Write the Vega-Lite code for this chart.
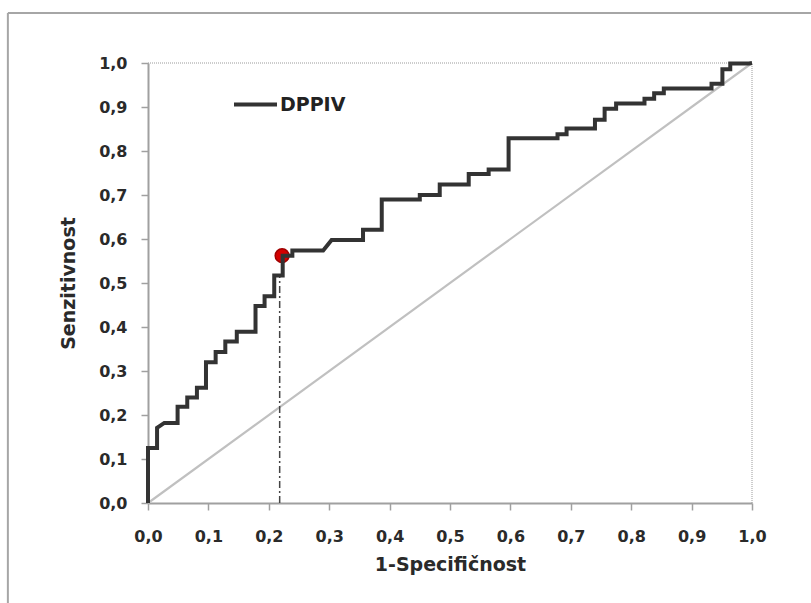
{
  "$schema": "https://vega.github.io/schema/vega-lite/v6.json",
  "width": 604,
  "height": 440,
  "autosize": {"type": "none"},
  "padding": {"left": 148, "top": 63, "right": 59, "bottom": 100},
  "background": "white",
  "config": {"view": {"stroke": null}},
  "datasets": {
    "roc": [
      {"x": 0, "y": 0}, {"x": 0, "y": 0.125}, {"x": 0.015, "y": 0.125}, {"x": 0.015, "y": 0.171},
      {"x": 0.027, "y": 0.182}, {"x": 0.049, "y": 0.182}, {"x": 0.049, "y": 0.219}, {"x": 0.065, "y": 0.219},
      {"x": 0.065, "y": 0.24}, {"x": 0.081, "y": 0.24}, {"x": 0.081, "y": 0.262}, {"x": 0.096, "y": 0.262},
      {"x": 0.096, "y": 0.32}, {"x": 0.112, "y": 0.32}, {"x": 0.112, "y": 0.343}, {"x": 0.128, "y": 0.343},
      {"x": 0.128, "y": 0.367}, {"x": 0.147, "y": 0.367}, {"x": 0.147, "y": 0.389}, {"x": 0.178, "y": 0.389},
      {"x": 0.178, "y": 0.448}, {"x": 0.193, "y": 0.448}, {"x": 0.193, "y": 0.47}, {"x": 0.209, "y": 0.47},
      {"x": 0.209, "y": 0.517}, {"x": 0.223, "y": 0.517}, {"x": 0.223, "y": 0.562}, {"x": 0.239, "y": 0.562},
      {"x": 0.239, "y": 0.574}, {"x": 0.29, "y": 0.574}, {"x": 0.304, "y": 0.598}, {"x": 0.356, "y": 0.598},
      {"x": 0.356, "y": 0.621}, {"x": 0.387, "y": 0.621}, {"x": 0.387, "y": 0.69}, {"x": 0.45, "y": 0.69},
      {"x": 0.45, "y": 0.7}, {"x": 0.483, "y": 0.7}, {"x": 0.483, "y": 0.724}, {"x": 0.531, "y": 0.724},
      {"x": 0.531, "y": 0.748}, {"x": 0.564, "y": 0.748}, {"x": 0.564, "y": 0.758}, {"x": 0.597, "y": 0.758},
      {"x": 0.597, "y": 0.829}, {"x": 0.678, "y": 0.829}, {"x": 0.678, "y": 0.838}, {"x": 0.693, "y": 0.838},
      {"x": 0.693, "y": 0.851}, {"x": 0.74, "y": 0.851}, {"x": 0.74, "y": 0.871}, {"x": 0.756, "y": 0.871},
      {"x": 0.756, "y": 0.896}, {"x": 0.775, "y": 0.896}, {"x": 0.775, "y": 0.908}, {"x": 0.822, "y": 0.908},
      {"x": 0.822, "y": 0.919}, {"x": 0.838, "y": 0.919}, {"x": 0.838, "y": 0.931}, {"x": 0.854, "y": 0.931},
      {"x": 0.854, "y": 0.942}, {"x": 0.933, "y": 0.942}, {"x": 0.933, "y": 0.953}, {"x": 0.951, "y": 0.953},
      {"x": 0.951, "y": 0.986}, {"x": 0.964, "y": 0.986}, {"x": 0.964, "y": 0.999}, {"x": 0.995, "y": 0.999},
      {"x": 1, "y": 1}
    ],
    "diag": [{"x": 0, "y": 0}, {"x": 1, "y": 1}],
    "cut": [{"x": 0.218, "y": 0}, {"x": 0.218, "y": 0.52}],
    "opt": [{"x": 0.222, "y": 0.562}]
  },
  "layer": [
    {
      "data": {"values": [{}]},
      "mark": {"type": "rule", "color": "#a6a6a6", "strokeWidth": 2},
      "encoding": {
        "x": {
          "datum": -0.232, "type": "quantitative", "scale": {"domain": [0, 1]},
          "axis": {
            "title": "1-Specifičnost", "values": [0, 0.1, 0.2, 0.3, 0.4, 0.5, 0.6, 0.7, 0.8, 0.9, 1],
            "labelExpr": "replace(format(datum.value, '.1f'), '.', ',')",
            "grid": false, "domainColor": "#a0a0a0", "domainWidth": 2, "tickColor": "#a0a0a0", "tickWidth": 1.5, "tickSize": 7,
            "labelFont": "DejaVu Sans", "labelFontWeight": "bold", "labelFontSize": 16, "labelColor": "#2a2a2a", "labelPadding": 18,
            "labelFlush": false, "labelOverlap": false,
            "titleFont": "DejaVu Sans", "titleFontWeight": "bold", "titleFontSize": 19, "titleColor": "#2a2a2a", "titlePadding": 11
          }
        },
        "x2": {"datum": 1.2},
        "y": {
          "datum": 1.1136, "type": "quantitative", "scale": {"domain": [0, 1]},
          "axis": {
            "title": "Senzitivnost", "values": [0, 0.1, 0.2, 0.3, 0.4, 0.5, 0.6, 0.7, 0.8, 0.9, 1],
            "labelExpr": "replace(format(datum.value, '.1f'), '.', ',')",
            "grid": false, "domainColor": "#a0a0a0", "domainWidth": 2, "tickColor": "#a0a0a0", "tickWidth": 1.5, "tickSize": 7,
            "labelFont": "DejaVu Sans", "labelFontWeight": "bold", "labelFontSize": 16, "labelColor": "#2a2a2a", "labelPadding": 14,
            "labelFlush": false, "labelOverlap": false,
            "titleFont": "DejaVu Sans", "titleFontWeight": "bold", "titleFontSize": 19, "titleColor": "#2a2a2a", "titlePadding": 20
          }
        }
      }
    },
    {
      "data": {"values": [{}]},
      "mark": {"type": "rule", "color": "#a6a6a6", "strokeWidth": 2},
      "encoding": {
        "x": {"datum": -0.232, "type": "quantitative", "scale": {"domain": [0, 1]}},
        "y": {"datum": 1.1136, "type": "quantitative", "scale": {"domain": [0, 1]}},
        "y2": {"datum": -0.3}
      }
    },
    {
      "data": {"values": [{}]},
      "mark": {"type": "rule", "color": "#9a9a9a", "strokeWidth": 1, "strokeDash": [1, 1]},
      "encoding": {
        "x": {"datum": 0, "type": "quantitative", "scale": {"domain": [0, 1]}},
        "x2": {"datum": 1},
        "y": {"datum": 1, "type": "quantitative", "scale": {"domain": [0, 1]}}
      }
    },
    {
      "data": {"values": [{}]},
      "mark": {"type": "rule", "color": "#9a9a9a", "strokeWidth": 1, "strokeDash": [1, 1]},
      "encoding": {
        "x": {"datum": 1, "type": "quantitative", "scale": {"domain": [0, 1]}},
        "y": {"datum": 0, "type": "quantitative", "scale": {"domain": [0, 1]}},
        "y2": {"datum": 1}
      }
    },
    {
      "data": {"name": "diag"},
      "mark": {"type": "line", "color": "#c0c0c0", "strokeWidth": 2.2},
      "encoding": {
        "x": {"field": "x", "type": "quantitative", "scale": {"domain": [0, 1]}},
        "y": {"field": "y", "type": "quantitative", "scale": {"domain": [0, 1]}}
      }
    },
    {
      "data": {"name": "cut"},
      "mark": {"type": "line", "color": "#444444", "strokeWidth": 1.5, "strokeDash": [7, 3, 2, 3]},
      "encoding": {
        "x": {"field": "x", "type": "quantitative", "scale": {"domain": [0, 1]}},
        "y": {"field": "y", "type": "quantitative", "scale": {"domain": [0, 1]}}
      }
    },
    {
      "data": {"name": "opt"},
      "mark": {"type": "circle", "size": 190, "fill": "#d40000", "stroke": "#a00000", "strokeWidth": 1.5, "opacity": 1},
      "encoding": {
        "x": {"field": "x", "type": "quantitative", "scale": {"domain": [0, 1]}},
        "y": {"field": "y", "type": "quantitative", "scale": {"domain": [0, 1]}}
      }
    },
    {
      "data": {"name": "roc"},
      "mark": {"type": "line", "strokeWidth": 4, "strokeJoin": "miter"},
      "encoding": {
        "x": {"field": "x", "type": "quantitative", "scale": {"domain": [0, 1]}},
        "y": {"field": "y", "type": "quantitative", "scale": {"domain": [0, 1]}},
        "order": {"value": null},
        "color": {
          "datum": "DPPIV", "type": "nominal", "scale": {"range": ["#333333"]},
          "legend": {
            "orient": "none", "legendX": 84, "legendY": 18, "title": null, "padding": 0,
            "symbolType": "stroke", "symbolSize": 1849, "symbolStrokeWidth": 4,
            "labelFont": "DejaVu Sans", "labelFontWeight": "bold", "labelFontSize": 19, "labelColor": "#222222", "labelOffset": 1
          }
        }
      }
    }
  ]
}
